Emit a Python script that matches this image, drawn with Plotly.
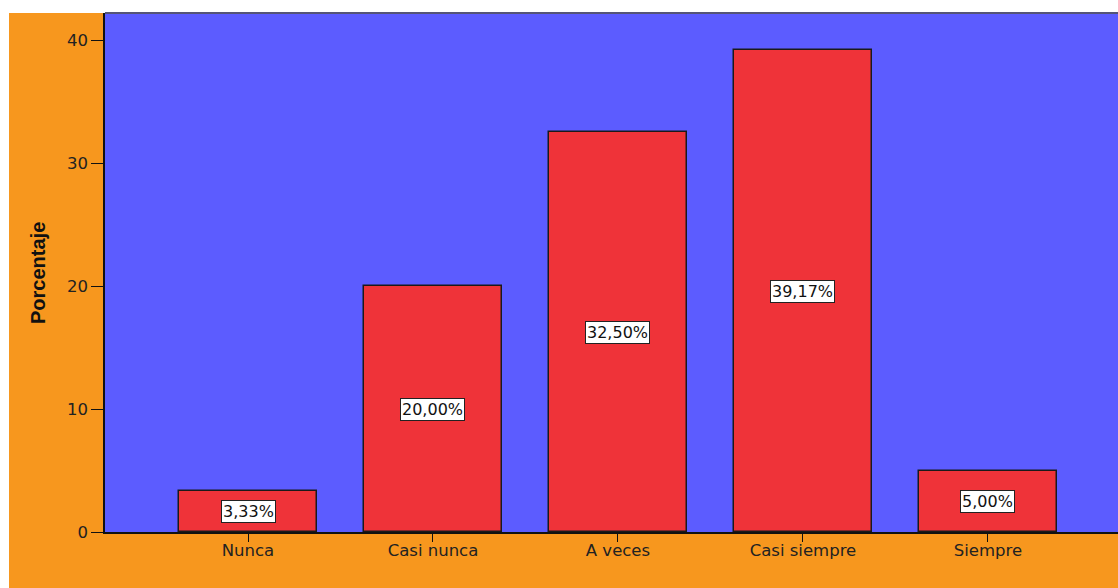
import plotly.graph_objects as go

categories = ["Nunca", "Casi nunca", "A veces", "Casi siempre", "Siempre"]
values = [3.33, 20.00, 32.50, 39.17, 5.00]
labels = ["3,33%", "20,00%", "32,50%", "39,17%", "5,00%"]
y_ticks = [0, 10, 20, 30, 40]

W, H = 1118, 588
L, R, T, B = 105, 0, 13, 56
pw, ph = W - L - R, H - T - B

FONT = "DejaVu Sans, Verdana, sans-serif"

fig = go.Figure()
fig.add_trace(go.Bar(
    x=list(range(len(categories))), y=values, width=0.746,
    marker=dict(color="#EF3339", line=dict(color="#1a1a1a", width=1.5)),
    hoverinfo="skip",
))

for i, (v, lab) in enumerate(zip(values, labels)):
    fig.add_annotation(x=i, y=v / 2, text=lab, showarrow=False,
                       font=dict(family=FONT, size=16, color="#111"),
                       bgcolor="white", bordercolor="#222", borderwidth=1, borderpad=1)

fig.add_annotation(xref="paper", yref="paper", x=(38 - L) / pw, y=(H - B - 273) / ph,
                   xanchor="center", yanchor="middle",
                   text="<b>Porcentaje</b>", textangle=-90, showarrow=False,
                   font=dict(family="Liberation Sans Narrow, Arial Narrow, Liberation Sans", size=20, color="#111"))

# white strips at left and top of the page
fig.add_shape(type="rect", xref="paper", yref="paper", x0=-L / pw, x1=(9 - L) / pw,
              y0=-B / ph, y1=1 + T / ph, fillcolor="white", line_width=0, layer="below")
fig.add_shape(type="rect", xref="paper", yref="paper", x0=-L / pw, x1=1,
              y0=1, y1=1 + T / ph, fillcolor="white", line_width=0, layer="below")
# top border of plot area
fig.add_shape(type="line", xref="paper", yref="paper", x0=0, x1=1, y0=1, y1=1,
              line=dict(color="#555577", width=2))

fig.update_layout(
    width=W, height=H,
    margin=dict(l=L, r=R, t=T, b=B),
    paper_bgcolor="#F7971E", plot_bgcolor="#5C5CFF",
    showlegend=False, bargap=0,
    xaxis=dict(range=[-0.773, 4.703], tickvals=list(range(len(categories))), ticktext=categories,
               showgrid=False, zeroline=False, showline=True, linecolor="#111", linewidth=1.5,
               ticks="outside", ticklen=8, tickcolor="#111", ticklabelstandoff=-6,
               tickfont=dict(family=FONT, size=16.5, color="#222")),
    yaxis=dict(range=[0, 42.2], tickvals=y_ticks, showgrid=False, zeroline=False,
               showline=True, linecolor="#111", linewidth=1.5,
               ticks="outside", ticklen=12, tickcolor="#111",
               tickfont=dict(family=FONT, size=16.5, color="#222")),
)

fig.write_html("out.html", config={"displayModeBar": False},
               post_script="document.body.style.margin='0';document.body.style.overflow='hidden';")
